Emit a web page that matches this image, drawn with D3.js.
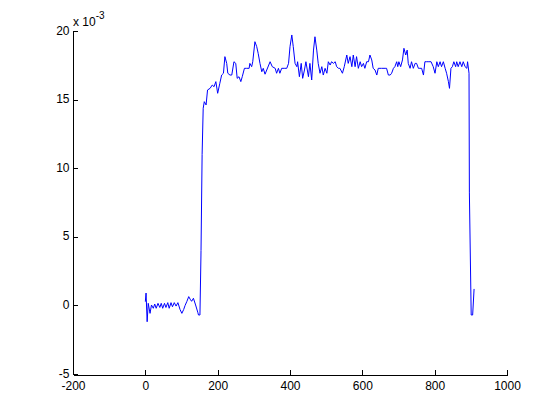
<!DOCTYPE html>
<html>
<head>
<meta charset="utf-8">
<script src="https://cdn.jsdelivr.net/npm/d3@7"></script>
<style>
  html, body { margin: 0; padding: 0; background: #fff; }
  svg { display: block; }
  .axis text { font-family: "Liberation Sans", Arial, sans-serif; font-size: 12px; fill: #000; }
  .axis path, .axis line { stroke: #000; stroke-width: 1; shape-rendering: crispEdges; }
</style>
</head>
<body>
<svg id="chart" width="560" height="420"></svg>
<script>
// ---- data (y values in units of 1e-3) ----
const xValues = [
  0, 2, 5, 8, 13, 17, 22, 26, 30, 35, 40, 44, 48, 53, 57, 62, 66, 71, 75, 80,
  85, 90, 96, 101, 106, 110, 115, 120, 124, 128, 133, 139, 145, 147, 151, 154, 157,
  160, 163, 168, 172, 179, 185, 190, 195, 200, 206, 211, 216, 220, 225, 228, 234, 239,
  245, 250, 254, 259, 264, 268, 274, 280, 287, 289, 294, 297, 303, 308, 312, 317, 322,
  326, 331, 345, 351, 359, 363, 368, 372, 377, 384, 391, 396, 400, 405, 409, 414, 419,
  421, 426, 431, 435, 440, 444, 451, 455, 460, 465, 469, 474, 478, 483, 488, 492, 497,
  502, 506, 511, 515, 520, 525, 529, 534, 538, 545, 550, 557, 561, 566, 571, 575, 580,
  584, 589, 594, 598, 603, 607, 612, 617, 621, 626, 630, 635, 640, 644, 653, 663, 667,
  672, 677, 681, 686, 690, 695, 698, 701, 706, 711, 715, 720, 724, 727, 732, 736, 741,
  746, 750, 755, 759, 764, 769, 773, 778, 784, 790, 796, 801, 806, 810, 815, 819, 824,
  829, 833, 838, 841, 845, 849, 853, 858, 861, 865, 870, 875, 879, 884, 889, 891, 895,
  896, 901, 905, 909
];
const yValues = [
  0.27, 0.9, -1.19, 0.15, -0.58, 0.03, -0.21, 0.1, -0.21, 0.15, -0.15, 0.15, -0.21, 0.15, -0.15, 0.2, -0.21, 0.2, -0.1, 0.2,
  -0.05, 0.2, -0.3, -0.58, -0.3, 0.0, 0.3, 0.64, 0.45, 0.3, 0.52, 0.03, -0.5, -0.7, -0.7, 4, 11,
  14.37, 14.85, 14.61, 15.70, 15.82, 16.06, 15.94, 16.31, 15.46, 16.19, 16.79, 16.92, 18.13, 17.64, 16.92, 16.79, 16.79,
  17.76, 17.64, 16.55, 16.67, 16.31, 16.67, 17.28, 17.28, 17.28, 17.64, 17.40, 17.76, 19.22, 18.86, 18.37, 17.64, 17.03,
  17.28, 16.85, 17.76, 17.40, 17.28, 16.92, 17.28, 16.92, 17.28, 17.28, 17.28, 17.64, 18.86, 19.71, 18.86, 17.64, 17.40,
  17.76, 16.67, 17.64, 16.55, 17.16, 17.76, 16.67, 17.64, 16.43, 18.61, 19.58, 18.61, 17.64, 16.92, 17.40, 16.79, 17.28,
  16.92, 17.76, 17.52, 17.76, 17.64, 17.76, 17.40, 17.28, 17.28, 16.92, 17.40, 18.25, 17.64, 18.13, 17.40, 18.25, 17.40,
  18.13, 17.28, 17.76, 17.40, 17.64, 17.28, 17.76, 17.76, 18.25, 17.89, 17.28, 17.16, 16.79, 17.28, 17.28, 17.28, 17.28,
  16.79, 16.79, 16.92, 17.28, 17.40, 17.76, 17.40, 17.76, 17.40, 17.89, 18.74, 18.25, 18.61, 17.64, 17.28, 17.76, 17.28,
  17.64, 17.64, 17.28, 17.28, 17.28, 16.79, 17.76, 17.76, 17.76, 17.76, 17.40, 16.92, 17.76, 17.40, 17.76, 17.40, 17.76,
  17.28, 16.92, 16.31, 15.82, 17.28, 17.40, 17.76, 17.40, 17.76, 17.40, 17.76, 17.40, 17.76, 17.40, 17.28, 17.76, 16.92,
  8.2, -0.7, -0.7, 1.2
];
const xTicks = [-200, 0, 200, 400, 600, 800, 1000];
const yTicks = [-5, 0, 5, 10, 15, 20];
const xTickLabels = ["-200", "0", "200", "400", "600", "800", "1000"];
const yTickLabels = ["-5", "0", "5", "10", "15", "20"];
const exponentBase = "x 10";
const exponentPower = "-3";

const points = xValues.map((xv, i) => ({ x: xv, y: yValues[i] }));

const svg = d3.select("#chart");
const plotLeft = 73, plotRight = 507, plotTop = 31, plotBottom = 374;

const xScale = d3.scaleLinear().domain([-200, 1000]).range([plotLeft, plotRight]);
const yScale = d3.scaleLinear().domain([-5, 20]).range([plotBottom, plotTop]);

// line
const lineGen = d3.line().x(d => xScale(d.x)).y(d => yScale(d.y));
svg.append("path")
  .datum(points)
  .attr("fill", "none")
  .attr("stroke", "#0000ff")
  .attr("stroke-width", 1)
  .attr("stroke-linejoin", "miter")
  .attr("d", lineGen);

// x axis
const xAxis = d3.axisBottom(xScale)
  .tickValues(xTicks)
  .tickFormat((d, i) => xTickLabels[i])
  .tickSizeInner(-5)
  .tickSizeOuter(0)
  .tickPadding(7);
svg.append("g").attr("class", "axis")
  .attr("transform", `translate(0,${plotBottom + 0.5})`)
  .call(xAxis);

// y axis
const yAxis = d3.axisLeft(yScale)
  .tickValues(yTicks)
  .tickFormat((d, i) => yTickLabels[i])
  .tickSizeInner(-5)
  .tickSizeOuter(0)
  .tickPadding(3);
const gy = svg.append("g").attr("class", "axis")
  .attr("transform", `translate(${plotLeft - 0.5},0)`)
  .call(yAxis);
gy.selectAll(".tick text").attr("dy", "0.25em");

// exponent label
const expText = svg.append("text")
  .attr("x", plotLeft)
  .attr("y", 26)
  .attr("font-family", "Liberation Sans, Arial, sans-serif")
  .attr("font-size", 12)
  .attr("fill", "#000");
expText.append("tspan").text(exponentBase);
expText.append("tspan").attr("dy", -7).attr("font-size", 10).text(exponentPower);
</script>
</body>
</html>
